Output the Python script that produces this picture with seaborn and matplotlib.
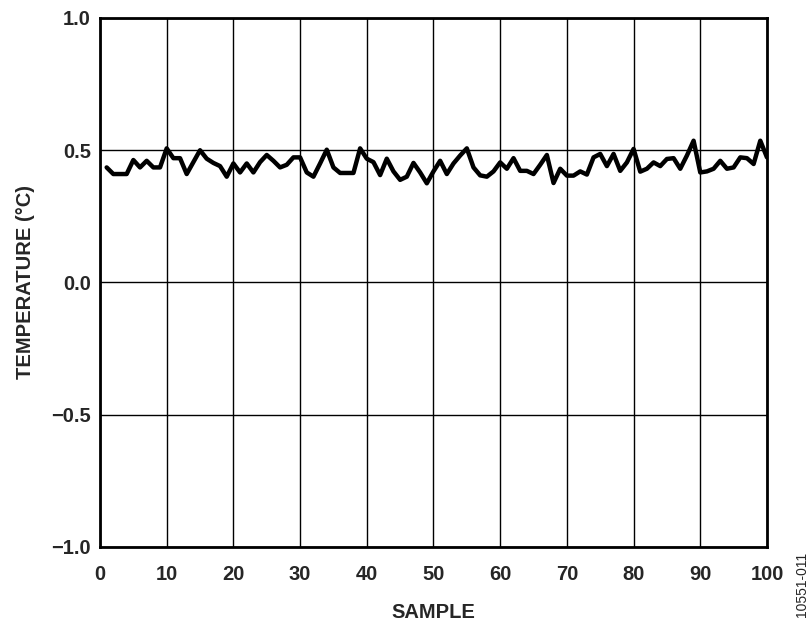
import numpy as np
import pandas as pd
import matplotlib
matplotlib.use("Agg")
import matplotlib.pyplot as plt
import seaborn as sns

samples = list(range(1, 101))
temperature = [
    0.435, 0.41, 0.41, 0.41, 0.463, 0.435, 0.46, 0.435, 0.435, 0.507,
    0.47, 0.47, 0.41, 0.455, 0.50, 0.468, 0.452, 0.44, 0.40, 0.45,
    0.416, 0.45, 0.416, 0.455, 0.482, 0.46, 0.435, 0.445, 0.473, 0.473,
    0.416, 0.40, 0.45, 0.502, 0.435, 0.414, 0.414, 0.414, 0.507, 0.468,
    0.455, 0.406, 0.468, 0.42, 0.388, 0.40, 0.452, 0.416, 0.375, 0.42,
    0.46, 0.41, 0.45, 0.48, 0.507, 0.435, 0.405, 0.40, 0.42, 0.454,
    0.43, 0.47, 0.422, 0.422, 0.41, 0.445, 0.482, 0.376, 0.43, 0.404,
    0.404, 0.42, 0.408, 0.473, 0.486, 0.44, 0.486, 0.422, 0.454, 0.505,
    0.419, 0.43, 0.454, 0.44, 0.467, 0.47, 0.43, 0.48, 0.536, 0.416,
    0.42, 0.43, 0.46, 0.43, 0.435, 0.473, 0.47, 0.448, 0.536, 0.473,
]
x_ticks = [0, 10, 20, 30, 40, 50, 60, 70, 80, 90, 100]
y_ticks = [-1.0, -0.5, 0.0, 0.5, 1.0]
y_ticklabels = ["\u22121.0", "\u22120.5", "0.0", "0.5", "1.0"]

sns.set_style("white")
plt.rcParams['font.family'] = ['Liberation Sans', 'DejaVu Sans']

df = pd.DataFrame({"sample": samples, "temp": temperature})

fig = plt.figure(figsize=(8.11, 6.22), dpi=100)
ax = fig.add_axes([0.1233, 0.1206, 0.8224, 0.8505])

sns.lineplot(data=df, x="sample", y="temp", ax=ax, color="black", linewidth=3.2)

ax.set_xlim(0, 100)
ax.set_ylim(-1.0, 1.0)
ax.set_xticks(x_ticks)
ax.set_yticks(y_ticks)
ax.set_xticklabels([str(t) for t in x_ticks], fontsize=14.5, fontweight="bold")
ax.set_yticklabels(y_ticklabels, fontsize=14.5, fontweight="bold")
ax.tick_params(axis="x", length=0, pad=13)
ax.tick_params(axis="y", length=0, pad=6.5)
ax.grid(True, color="black", linewidth=1.0)
ax.set_axisbelow(True)
for s in ax.spines.values():
    s.set_linewidth(2.0)
    s.set_color("black")
    s.set_visible(True)

ax.set_xlabel("SAMPLE", fontsize=14.5, fontweight="bold", labelpad=14)
ax.set_ylabel("TEMPERATURE (\u00b0C)", fontsize=14.5, fontweight="bold", labelpad=12)

fig.text(0.9885, 0.06, "10551-011", rotation=90, fontsize=10, ha="center", va="center")

fig.savefig("out.png", dpi=100)
